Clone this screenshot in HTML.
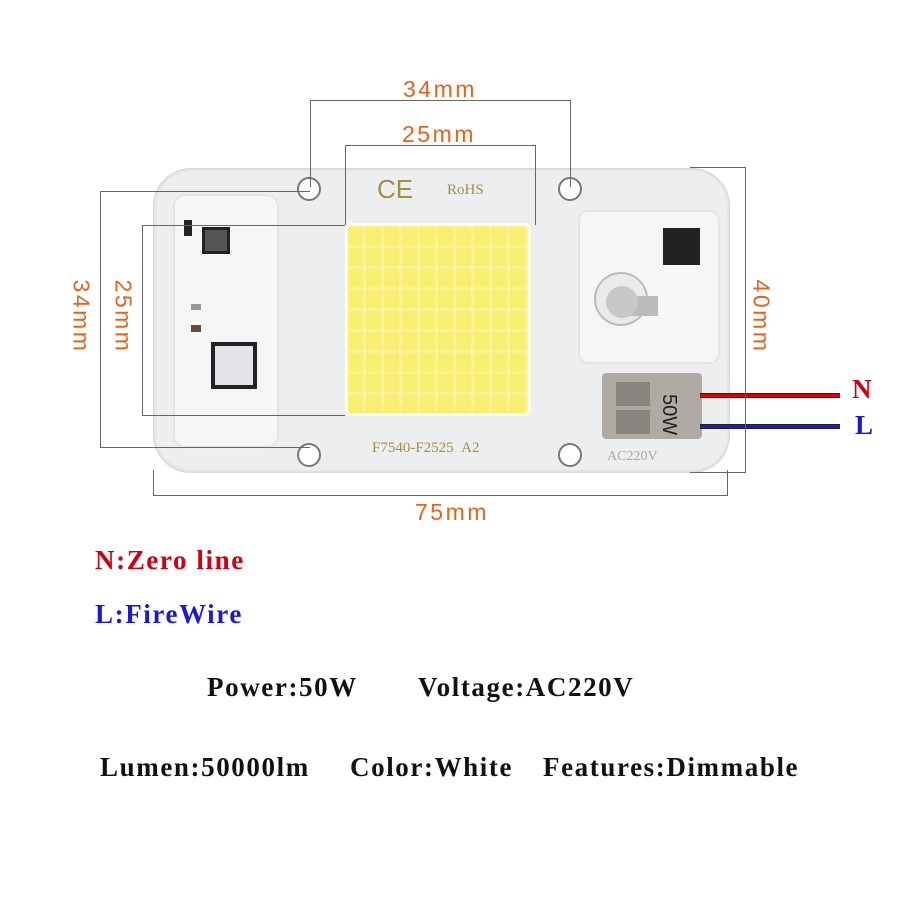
<!DOCTYPE html>
<html><head><style>
body{margin:0;width:900px;height:900px;background:#fff;position:relative;overflow:hidden;font-family:"Liberation Serif",serif}
.a{position:absolute}
.ln{position:absolute;background:#666}
.dim{position:absolute;color:#e0651e;font-family:"Liberation Sans",sans-serif;font-size:23px;letter-spacing:2.5px;white-space:nowrap}
.b{position:absolute;font-weight:bold;font-size:27px;letter-spacing:1.6px;color:#111;white-space:nowrap}
</style></head><body>
<div class="a" style="left:153px;top:168px;width:577px;height:305px;background:#eceef0;border-radius:38px;box-shadow:inset 0 0 4px #bbb"></div>
<div class="a" style="left:175px;top:196px;width:102px;height:250px;background:#f5f6f7;border-radius:10px;box-shadow:0 0 3px #ccc"></div>
<div class="a" style="left:184px;top:220px;width:8px;height:16px;background:#222"></div>
<div class="a" style="left:202px;top:227px;width:28px;height:27px;background:#555;border:3px solid #222;box-sizing:border-box"></div>
<div class="a" style="left:191px;top:304px;width:10px;height:6px;background:#999"></div>
<div class="a" style="left:191px;top:325px;width:10px;height:7px;background:#6a4a3a"></div>
<div class="a" style="left:211px;top:342px;width:46px;height:47px;background:#e6e2ea;border:4px solid #222;box-sizing:border-box"></div>
<div class="a" style="left:297px;top:177px;width:24px;height:24px;border-radius:50%;background:#fff;border:2px solid #777;box-sizing:border-box"></div>
<div class="a" style="left:558px;top:177px;width:24px;height:24px;border-radius:50%;background:#fff;border:2px solid #777;box-sizing:border-box"></div>
<div class="a" style="left:297px;top:443px;width:24px;height:24px;border-radius:50%;background:#fff;border:2px solid #777;box-sizing:border-box"></div>
<div class="a" style="left:558px;top:443px;width:24px;height:24px;border-radius:50%;background:#fff;border:2px solid #777;box-sizing:border-box"></div>
<div class="a" style="left:377px;top:174px;font-family:'Liberation Sans',sans-serif;font-size:26px;color:#a09040">CE</div>
<div class="a" style="left:447px;top:182px;font-size:15px;color:#a09040">RoHS</div>
<div class="a" style="left:345px;top:223px;width:186px;height:193px;background:#f8ef72;border:3px solid #fdfde8;border-radius:6px;box-sizing:border-box;background-image:repeating-linear-gradient(90deg,transparent 0 15px,rgba(255,255,255,.25) 15px 18px),repeating-linear-gradient(0deg,transparent 0 18px,rgba(255,255,255,.2) 18px 21px)"></div>
<div class="a" style="left:372px;top:440px;font-size:15px;color:#a09040">F7540-F2525&nbsp;&nbsp;A2</div>
<div class="a" style="left:580px;top:212px;width:138px;height:150px;background:#f5f6f7;border-radius:8px;box-shadow:0 0 3px #ccc"></div>
<div class="a" style="left:663px;top:228px;width:37px;height:37px;background:#222"></div>
<div class="a" style="left:594px;top:272px;width:54px;height:54px;border-radius:50%;background:#e8eaec;border:2px solid #bbb;box-sizing:border-box"></div>
<div class="a" style="left:622px;top:296px;width:36px;height:20px;background:#bbb"></div>
<div class="a" style="left:606px;top:286px;width:32px;height:32px;border-radius:50%;background:#c8c8c8"></div>
<div class="a" style="left:602px;top:373px;width:100px;height:66px;background:#b0aaa4;border-radius:4px"></div>
<div class="a" style="left:616px;top:382px;width:34px;height:24px;background:#8a8480"></div>
<div class="a" style="left:616px;top:410px;width:34px;height:24px;background:#8a8480"></div>
<div class="a" style="top:394px;font-family:'Liberation Sans',sans-serif;font-size:20px;color:#222;transform:rotate(90deg);transform-origin:left top;left:680px">50W</div>
<div class="a" style="left:607px;top:449px;font-size:14px;color:#aaa">AC220V</div>
<div class="a" style="left:700px;top:393px;width:140px;height:5px;background:linear-gradient(#222 0 1px,#d00 1px 4px,#222 4px)"></div>
<div class="a" style="left:700px;top:424px;width:140px;height:5px;background:linear-gradient(#222 0 1px,#1a1ad0 1px 4px,#222 4px)"></div>
<div class="b" style="left:852px;top:374px;color:#d00010">N</div>
<div class="b" style="left:855px;top:410px;color:#1a1ad0">L</div>
<div class="ln" style="left:310px;top:100px;width:1px;height:87px"></div>
<div class="ln" style="left:570px;top:100px;width:1px;height:87px"></div>
<div class="ln" style="left:310px;top:100px;width:261px;height:1px"></div>
<div class="dim" style="left:403px;top:76px">34mm</div>
<div class="ln" style="left:345px;top:145px;width:1px;height:80px"></div>
<div class="ln" style="left:535px;top:145px;width:1px;height:80px"></div>
<div class="ln" style="left:345px;top:145px;width:190px;height:1px"></div>
<div class="dim" style="left:402px;top:121px">25mm</div>
<div class="ln" style="left:100px;top:191px;width:210px;height:1px"></div>
<div class="ln" style="left:100px;top:447px;width:210px;height:1px"></div>
<div class="ln" style="left:100px;top:191px;width:1px;height:256px"></div>
<div class="dim" style="left:44px;top:303px;transform:rotate(90deg)">34mm</div>
<div class="ln" style="left:142px;top:225px;width:203px;height:1px"></div>
<div class="ln" style="left:142px;top:415px;width:203px;height:1px"></div>
<div class="ln" style="left:142px;top:225px;width:1px;height:190px"></div>
<div class="dim" style="left:86px;top:303px;transform:rotate(90deg)">25mm</div>
<div class="ln" style="left:690px;top:167px;width:56px;height:1px"></div>
<div class="ln" style="left:690px;top:472px;width:56px;height:1px"></div>
<div class="ln" style="left:745px;top:167px;width:1px;height:306px"></div>
<div class="dim" style="left:724px;top:303px;transform:rotate(90deg)">40mm</div>
<div class="ln" style="left:153px;top:470px;width:1px;height:26px"></div>
<div class="ln" style="left:727px;top:470px;width:1px;height:26px"></div>
<div class="ln" style="left:153px;top:495px;width:575px;height:1px"></div>
<div class="dim" style="left:415px;top:499px">75mm</div>
<div class="b" style="left:95px;top:545px;color:#d00010">N:Zero line</div>
<div class="b" style="left:95px;top:599px;color:#1a1ad0">L:FireWire</div>
<div class="b" style="left:207px;top:672px">Power:50W</div>
<div class="b" style="left:418px;top:672px">Voltage:AC220V</div>
<div class="b" style="left:100px;top:752px">Lumen:50000lm</div>
<div class="b" style="left:350px;top:752px">Color:White</div>
<div class="b" style="left:543px;top:752px">Features:Dimmable</div>
</body></html>
